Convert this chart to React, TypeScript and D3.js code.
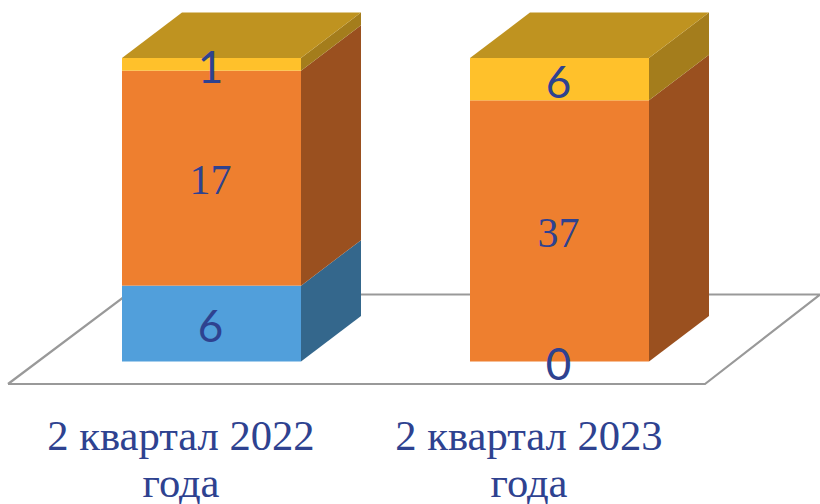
import React from "react";
import * as d3 from "d3";

const categories = [["2 квартал 2022", "года"], ["2 квартал 2023", "года"]];
const seriesNames = ["blue", "orange", "yellow"];
const blueValues = [6, 0];
const orangeValues = [17, 37];
const yellowValues = [1, 6];
const seriesValues = [blueValues, orangeValues, yellowValues];
const fronts = ["#519fdb", "#ee7f2f", "#ffc12b"];
const sides = ["#34678c", "#9a501f", "#a47d1c"];
const topColor = "#bf9320";
const sansFont = "Lato, sans-serif";
const serifFont = "'Liberation Serif', serif";
const textColor = "#2e4290";

const W = 820, H = 504;
const dx = 60, dy = 45.5;
const bw = 179;
const x = d3.scalePoint<number>().domain([0, 1]).range([122, 470]);
const y = d3.scaleLinear().domain([0, 1]).range([361.5, 58]);
const pts = (p: [number, number][]) => p.map(q => q.join(",")).join(" ");

export default function App() {
  const bars = categories.map((_, c) => {
    const total = d3.sum(seriesValues, s => s[c]);
    let acc = 0;
    return seriesNames.map((_n, s) => {
      const v = seriesValues[s][c];
      const y0 = y(acc / total);
      acc += v;
      const y1 = y(acc / total);
      return { s, v, y0, y1 };
    });
  });
  return (
    <svg width={W} height={H} style={{ position: "absolute", left: 0, top: 0 }}>
      <polyline points={pts([[8, 384], [705, 384], [820, 294.5], [127, 294.5], [8, 384]])} fill="none" stroke="#999" strokeWidth={2.2} />
      {bars.map((segs, c) => {
        const x0 = x(c)!, x1 = x0 + bw;
        return (
          <g key={c}>
            {segs.map(d => (
              <g key={d.s}>
                <rect x={x0} y={d.y1} width={bw} height={d.y0 - d.y1} fill={fronts[d.s]} />
                <polygon points={pts([[x1, d.y0], [x1 + dx, d.y0 - dy], [x1 + dx, d.y1 - dy], [x1, d.y1]])} fill={sides[d.s]} />
              </g>
            ))}
            <polygon points={pts([[x0, y(1)], [x0 + dx, y(1) - dy], [x1 + dx, y(1) - dy], [x1, y(1)]])} fill={topColor} />
            {segs.map(d => {
              const serif = d.s === 1 && d.v > 0;
              return (
                <text key={d.s} x={x0 + bw / 2 - 1} y={(d.y0 + d.y1) / 2 + (serif ? 1.5 : 3)} dy="0.35em" textAnchor="middle"
                  fontFamily={serif ? serifFont : sansFont} fontWeight={400} fontSize={serif ? 42 : 44} fill={textColor}>{d.v}</text>
              );
            })}
            {categories[c].map((t, i) => (
              <text key={i} x={x0 + 59} y={449.5 + i * 47.5} textAnchor="middle"
                fontFamily={serifFont} fontSize={42.6} fill={textColor}>{t}</text>
            ))}
          </g>
        );
      })}
    </svg>
  );
}
